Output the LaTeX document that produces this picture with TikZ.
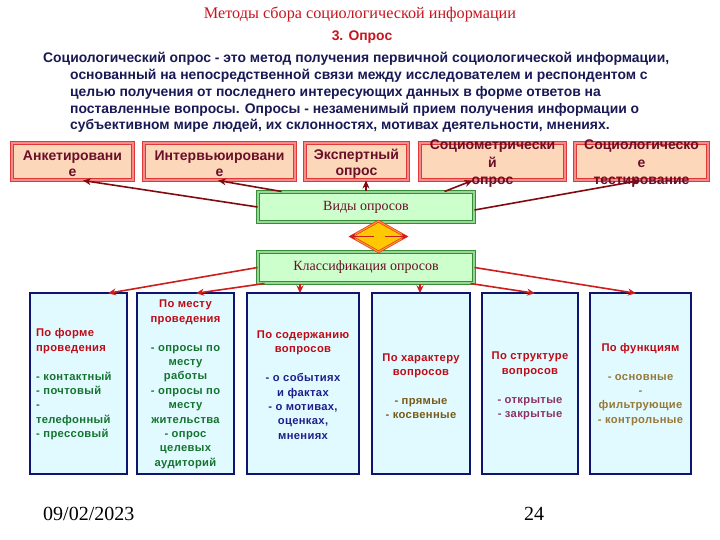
\documentclass[tikz,border=0pt]{standalone}
\usepackage{fontspec}
\setmainfont{Liberation Serif}
\newfontfamily\arial{Liberation Sans}
\newfontfamily\arialsp[LetterSpace=3]{Liberation Sans}
\usetikzlibrary{shapes.geometric,arrows.meta,calc}
\definecolor{navytext}{RGB}{25,25,85}
\definecolor{titlered}{RGB}{200,20,30}
\definecolor{maroon}{RGB}{105,15,40}
\definecolor{peach}{RGB}{252,215,185}
\definecolor{peachline}{RGB}{225,55,55}
\definecolor{peachin}{RGB}{245,140,140}
\definecolor{lgreen}{RGB}{204,255,204}
\definecolor{gline}{RGB}{55,140,55}
\definecolor{gin}{RGB}{150,215,150}
\definecolor{gold}{RGB}{255,200,0}
\definecolor{dline}{RGB}{225,70,20}
\definecolor{din}{RGB}{255,150,60}
\definecolor{lcyan}{RGB}{225,250,255}
\definecolor{bnavy}{RGB}{15,20,110}
\definecolor{hred}{RGB}{190,10,20}
\definecolor{bgreen}{RGB}{20,115,45}
\definecolor{bblue}{RGB}{30,30,140}
\definecolor{bbrown}{RGB}{120,90,25}
\definecolor{bplum}{RGB}{140,50,100}
\definecolor{bolive}{RGB}{150,120,55}
\definecolor{darr}{RGB}{130,10,15}
\definecolor{rarr}{RGB}{205,30,30}
\newcommand\hd[1]{\textcolor{hred}{#1}}
\tikzset{
  topbox/.style={draw=peachline,double=peachin,double distance=1.4pt,line width=1pt,fill=peach,minimum height=37pt,inner sep=0pt},
  toptext/.style={font=\arial\bfseries\fontsize{14}{16}\selectfont,text=maroon,align=center,inner sep=0pt},
  greenbox/.style={draw=gline,double=gin,double distance=1.6pt,line width=1pt,fill=lgreen,minimum width=216pt,inner sep=0pt,font=\fontsize{14}{16}\selectfont,text=maroon},
  diam/.style={diamond,draw=dline,double=din,double distance=1pt,line width=0.8pt,fill=gold,minimum width=55pt,minimum height=31pt,inner sep=0pt,aspect=1.78},
  botbox/.style={draw=bnavy,line width=2.4pt,fill=lcyan,minimum height=181pt,inner sep=0pt},
  bottext/.style={font=\arialsp\bfseries\fontsize{11.2}{14.4}\selectfont,align=center,inner sep=0pt},
  darrow/.style={draw=darr,line width=1.6pt,-{Stealth[length=8pt,width=7pt]}},
  rarrow/.style={draw=rarr,line width=1.6pt,-{Stealth[length=8pt,width=7pt]}},
  para/.style={font=\arial\bfseries\fontsize{13.9}{16}\selectfont,text=navytext,anchor=base west,inner sep=0pt},
}
\begin{document}
\begin{tikzpicture}[x=1pt,y=-1pt]
\useasboundingbox (0,0) rectangle (720,540);
\fill[white] (0,0) rectangle (720,540);
% header
\node[font=\fontsize{16.2}{18}\selectfont,text=titlered,anchor=base,inner sep=0pt] (title) at (360,18.5) {Методы сбора социологической информации};
\node[font=\arial\bfseries\fontsize{13.9}{15}\selectfont,text=titlered,anchor=base,inner sep=0pt] (sub) at (362,41) {3. Опрос};
\node[para] (p1) at (43,63) {Социологический опрос - это метод получения первичной социологической информации,};
\node[para] (p2) at (70,80) {основанный на непосредственной связи между исследователем и респондентом с};
\node[para] (p3) at (70,97) {целью получения от последнего интересующих данных в форме ответов на};
\node[para] (p4) at (70,113.5) {поставленные вопросы. Опросы - незаменимый прием получения информации о};
\node[para] (p5) at (70,129.5) {субъективном мире людей, их склонностях, мотивах деятельности, мнениях.};
% top boxes
\node[topbox,minimum width=121pt] (anket) at (72.5,161.5) {};
\node[topbox,minimum width=151pt] (interv) at (219.5,161.5) {};
\node[topbox,minimum width=103pt] (expert) at (356.5,161.5) {};
\node[topbox,minimum width=145pt] (sociom) at (492.5,161.5) {};
\node[topbox,minimum width=133pt] (sociol) at (641.5,161.5) {};
% green boxes and diamond
\node[greenbox,minimum height=30pt] (vid) at (366,207) {Виды опросов};
\node[greenbox,minimum height=31pt] (klass) at (366,267.5) {Классификация опросов};
\node[diam] (dia) at (378.5,236.5) {};
\draw[rarrow,line width=1.7pt,-{Stealth[length=6.5pt,width=6.5pt]}] ([xshift=-5pt]dia.center) -- ([xshift=-1.5pt]dia.west);
\draw[rarrow,line width=1.7pt,-{Stealth[length=6.5pt,width=6.5pt]}] ([xshift=6pt]dia.center) -- ([xshift=1.5pt]dia.east);
% arrows to top boxes
\draw[darrow] (vid.west) -- ([xshift=10.5pt]anket.south);
\draw[darrow] ([xshift=24pt]vid.north west) -- ([xshift=-1.5pt]interv.south);
\draw[darrow] (vid.north) -- (vid.north |- expert.south);
\draw[darrow] ([xshift=-30pt]vid.north east) -- ([xshift=-20pt]sociom.south);
\draw[darrow] ([yshift=-3pt]vid.east) -- ([xshift=-1.5pt]sociol.south);
% top box texts
\node[toptext] (tanket) at ([yshift=-2.5pt]anket.center) {Анкетировани\\е};
\node[toptext] (tinterv) at ([yshift=-2.5pt]interv.center) {Интервьюировани\\е};
\node[toptext] (texpert) at ([yshift=-2pt]expert.center) {Экспертный\\опрос};
\node[toptext,font=\arial\bfseries\fontsize{14}{17.5}\selectfont] (tsociom) at ([yshift=-2.5pt]sociom.center) {Социометрически\\й\\опрос};
\node[toptext,font=\arial\bfseries\fontsize{14}{17.5}\selectfont] (tsociol) at ([yshift=-2.5pt]sociol.center) {Социологическо\\е\\тестирование};
% bottom boxes
\node[botbox,minimum width=97pt] (b1) at (78.5,383.5) {};
\node[botbox,minimum width=97pt] (b2) at (185.5,383.5) {};
\node[botbox,minimum width=112pt] (b3) at (303,383.5) {};
\node[botbox,minimum width=98pt] (b4) at (421,383.5) {};
\node[botbox,minimum width=96pt] (b5) at (530,383.5) {};
\node[botbox,minimum width=101pt] (b6) at (640.5,383.5) {};
% arrows to bottom boxes
\draw[rarrow] (klass.west) -- ([xshift=29.5pt,yshift=-1.5pt]b1.north);
\draw[rarrow] ([xshift=7pt]klass.south west) -- ([xshift=10.5pt,yshift=-1.5pt]b2.north);
\draw[rarrow] ([xshift=-3pt]b3.north |- klass.south) -- ([xshift=-3pt,yshift=-1.5pt]b3.north);
\draw[rarrow] ([xshift=-1pt]b4.north |- klass.south) -- ([xshift=-1pt,yshift=-1.5pt]b4.north);
\draw[rarrow] ([xshift=-4pt]klass.south east) -- ([xshift=5pt,yshift=-1.5pt]b5.north);
\draw[rarrow] (klass.east) -- ([xshift=-4.5pt,yshift=-1.5pt]b6.north);
% bottom box texts
\node[bottext,align=left,text width=88pt,text=bgreen] (t1) at ([xshift=1.5pt,yshift=-1pt]b1.center) {\hd{По форме}\\\hd{проведения}\\\strut\\- контактный\\- почтовый\\-\\телефонный\\- прессовый};
\node[bottext,text=bgreen] (t2) at ([yshift=-1pt]b2.center) {\hd{По месту}\\\hd{проведения}\\\strut\\- опросы по\\месту\\работы\\- опросы по\\месту\\жительства\\- опрос\\целевых\\аудиторий};
\node[bottext,text=bblue] (t3) at ([yshift=-1.5pt]b3.center) {\hd{По содержанию}\\\hd{вопросов}\\\strut\\- о событиях\\и фактах\\- о мотивах,\\оценках,\\мнениях};
\node[bottext,text=bbrown] (t4) at ([yshift=-2.5pt]b4.center) {\hd{По характеру}\\\hd{вопросов}\\\strut\\- прямые\\- косвенные};
\node[bottext,text=bplum] (t5) at ([yshift=-2.5pt]b5.center) {\hd{По структуре}\\\hd{вопросов}\\\strut\\- открытые\\- закрытые};
\node[bottext,text=bolive] (t6) at ([yshift=-1pt]b6.center) {\hd{По функциям}\\\strut\\- основные\\-\\фильтрующие\\- контрольные};
% footer
\node[font=\fontsize{20}{22}\selectfont,anchor=base west,inner sep=0pt] (date) at (43,520) {09/02/2023};
\node[font=\fontsize{20}{22}\selectfont,anchor=base west,inner sep=0pt] (page) at (524,520) {24};
\end{tikzpicture}
\end{document}
